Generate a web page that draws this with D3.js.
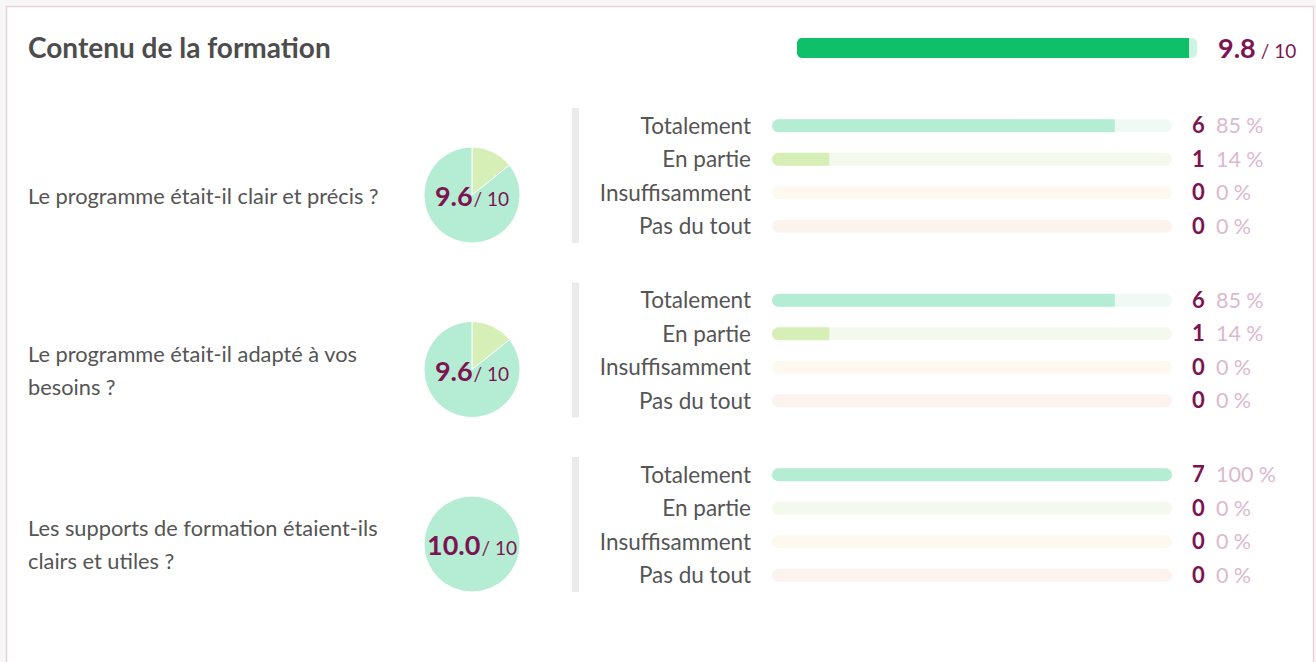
<!DOCTYPE html>
<html>
<head>
<meta charset="utf-8">
<title>Contenu de la formation</title>
<script src="https://cdn.jsdelivr.net/npm/d3@7"></script>
<style>
    body { margin: 0; background: #f7f7f7; font-family: Lato, "Open Sans", sans-serif; }
    svg { display: block; }
</style>
</head>
<body>
<svg id="chart" width="1316" height="662"></svg>
<script>
    // data
    const answers = ["Totalement", "En partie", "Insuffisamment", "Pas du tout"];
    const questions = [
        ["Le programme était-il clair et précis ?"],
        ["Le programme était-il adapté à vos", "besoins ?"],
        ["Les supports de formation étaient-ils", "clairs et utiles ?"]
    ];
    const counts = [
        [6, 1, 0, 0],
        [6, 1, 0, 0],
        [7, 0, 0, 0]
    ];
    const percents = [
        [85.7, 14.3, 0, 0],
        [85.7, 14.3, 0, 0],
        [100, 0, 0, 0]
    ];
    const percentLabels = [
        ["85\u202f%", "14\u202f%", "0\u202f%", "0\u202f%"],
        ["85\u202f%", "14\u202f%", "0\u202f%", "0\u202f%"],
        ["100\u202f%", "0\u202f%", "0\u202f%", "0\u202f%"]
    ];
    const scores = ["9.6", "9.6", "10.0"];
    const overallScore = 9.8;

    const fillColors = ["#b5ecd4", "#d5efb6", "#f7ecc4", "#f7d8cc"];
    const trackColors = ["#effaf4", "#f3f9ec", "#fdf9ef", "#fcf3ef"];
    const accent = "#7d1451";
    const textColor = "#555";

    const svg = d3.select("#chart");

    // card
    svg.append("rect")
        .attr("x", 6.5).attr("y", 6.5)
        .attr("width", 1307).attr("height", 700)
        .attr("fill", "#fff")
        .attr("stroke", "#e9d3df")
        .attr("stroke-width", 1.5);

    svg.append("text")
        .attr("x", 28).attr("y", 58)
        .attr("font-size", 28).attr("font-weight", 700)
        .attr("fill", "#4d4d4d")
        .text("Contenu de la formation");

    // overall bar
    const xTop = d3.scaleLinear().domain([0, 10]).range([797, 1197]);
    svg.append("rect")
        .attr("x", xTop(0)).attr("y", 38)
        .attr("width", xTop(10) - xTop(0)).attr("height", 20)
        .attr("rx", 5).attr("fill", "#cff3e0");
    svg.append("defs").append("clipPath").attr("id", "topClip")
        .append("rect")
        .attr("x", xTop(0)).attr("y", 38)
        .attr("width", xTop(overallScore) - xTop(0)).attr("height", 20);
    svg.append("rect")
        .attr("clip-path", "url(#topClip)")
        .attr("x", xTop(0)).attr("y", 38)
        .attr("width", xTop(10) - xTop(0)).attr("height", 20)
        .attr("rx", 5).attr("fill", "#0fc068");

    const topLabel = svg.append("text")
        .attr("x", 1218).attr("y", 58)
        .attr("fill", accent);
    topLabel.append("tspan").attr("font-size", 27).attr("font-weight", 700).text(overallScore.toFixed(1));
    topLabel.append("tspan").attr("font-size", 19).attr("dx", 5).text("/ 10");

    // question blocks
    const blockY = d3.scaleLinear().domain([0, 1]).range([108, 282.5]);
    const rowY = d3.scaleBand().domain(answers).range([109, 243]).paddingInner(0);
    const x = d3.scaleLinear().domain([0, 100]).range([772, 1172]);
    const defs = svg.select("defs");

    const pie = d3.pie().sort(null).value(d => d);
    const arc = d3.arc().innerRadius(0).outerRadius(48);

    questions.forEach((q, i) => {
        const g = svg.append("g").attr("transform", `translate(0,${blockY(i) - 108})`);

        // question text
        const lineH = 33;
        const qy = 196 - (q.length - 1) * lineH / 2;
        q.forEach((line, j) => {
            g.append("text")
                .attr("x", 28).attr("y", qy + j * lineH)
                .attr("dy", "0.35em")
                .attr("font-size", 21.8).attr("fill", textColor)
                .text(line.replace(" ?", "\u202f?"));
        });

        // pie (drawn from the last answer to the first, clockwise from 12 o'clock)
        const pg = g.append("g").attr("transform", "translate(472,195)");
        const order = d3.range(answers.length).reverse();
        pg.selectAll("path")
            .data(pie(order.map(k => counts[i][k])))
            .join("path")
            .attr("d", arc)
            .attr("fill", (d, k) => fillColors[order[k]])
            .attr("stroke", "#fff")
            .attr("stroke-width", 1);

        const sLabel = pg.append("text")
            .attr("text-anchor", "middle")
            .attr("y", 11)
            .attr("fill", accent);
        sLabel.append("tspan").attr("font-size", 27).attr("font-weight", 700).text(scores[i]);
        sLabel.append("tspan").attr("font-size", 19).attr("dx", 1).text("/ 10");

        // separator
        g.append("rect")
            .attr("x", 572).attr("y", 108)
            .attr("width", 7).attr("height", 135)
            .attr("fill", "#ebebeb");

        answers.forEach((a, k) => {
            const cy = rowY(a) + rowY.bandwidth() / 2;
            g.append("text")
                .attr("x", 751).attr("y", cy)
                .attr("dy", "0.35em")
                .attr("text-anchor", "end")
                .attr("font-size", 22.5).attr("fill", textColor)
                .text(a);

            g.append("rect")
                .attr("x", x(0)).attr("y", cy - 6.5)
                .attr("width", x(100) - x(0)).attr("height", 13)
                .attr("rx", 6.5).attr("fill", trackColors[k]);

            const clipId = `clip-${i}-${k}`;
            defs.append("clipPath").attr("id", clipId)
                .append("rect")
                .attr("x", x(0)).attr("y", cy - 7)
                .attr("width", x(percents[i][k]) - x(0)).attr("height", 14);
            g.append("rect")
                .attr("clip-path", `url(#${clipId})`)
                .attr("x", x(0)).attr("y", cy - 6.5)
                .attr("width", x(100) - x(0)).attr("height", 13)
                .attr("rx", 6.5).attr("fill", fillColors[k]);

            g.append("text")
                .attr("x", 1192).attr("y", cy)
                .attr("dy", "0.35em")
                .attr("font-size", 22).attr("font-weight", 700)
                .attr("fill", accent)
                .text(counts[i][k]);
            g.append("text")
                .attr("x", 1216).attr("y", cy)
                .attr("dy", "0.35em")
                .attr("font-size", 21.5)
                .attr("fill", "#dcb9cf")
                .text(percentLabels[i][k]);
        });
    });
</script>
</body>
</html>
